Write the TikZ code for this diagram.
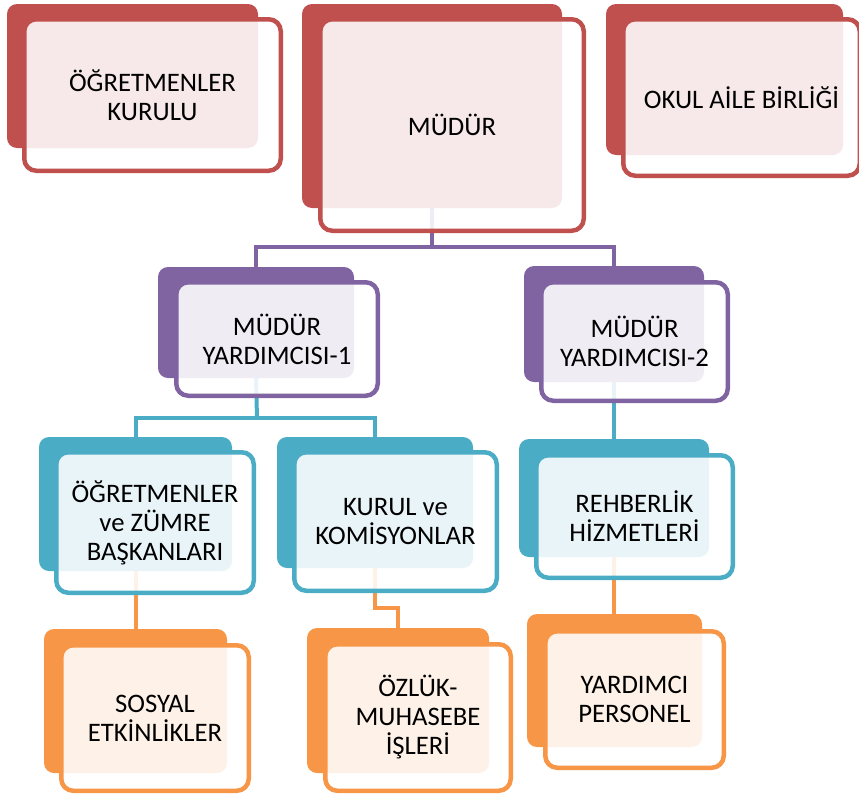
\documentclass[tikz,border=0pt]{standalone}
\usepackage{fontspec}
\setmainfont{Carlito}
\definecolor{cred}{HTML}{C0504D}
\definecolor{cpur}{HTML}{8064A2}
\definecolor{cteal}{HTML}{4BACC6}
\definecolor{corg}{HTML}{F79646}
\tikzset{
  backbox/.style={rectangle, rounded corners=10pt, inner sep=0pt, draw=none},
  frontbox/.style={rectangle, rounded corners=12pt, inner sep=0pt, line width=4.5pt,
     fill=white, fill opacity=0.88, text opacity=1, align=center,
     font=\fontsize{26.7}{29}\selectfont},
  conn/.style={line width=4pt}
}
% back (dark) box: name, colour, x1,y1,x2,y2
\newcommand\orgdarkbox[6]{%
  \node[backbox, fill=#2, minimum width={(#5-#3)*1pt}, minimum height={(#6-#4)*1pt}]
    (#1) at ({(#3+#5)/2},{(#4+#6)/2}) {};}
% front (outlined) box: name, colour, x1,y1,x2,y2 (outer), text
\newcommand\orgfrontbox[7]{%
  \node[frontbox, draw=#2, minimum width={(#5-#3-4.5)*1pt}, minimum height={(#6-#4-4.5)*1pt}]
    (#1) at ({(#3+#5)/2},{(#4+#6)/2}) {#7};}
\begin{document}
\begin{tikzpicture}[x=1pt,y=-1pt]
\useasboundingbox (0,0) rectangle (859,798);
% dark boxes
\orgdarkbox{kurulu-b}{cred}{7}{4}{258}{148}
\orgdarkbox{mudur-b}{cred}{302}{4}{562}{208}
\orgdarkbox{okul-b}{cred}{606}{4}{843}{155}
\orgdarkbox{my1-b}{cpur}{158}{267}{354}{378}
\orgdarkbox{my2-b}{cpur}{524}{266}{704}{382}
\orgdarkbox{ogz-b}{cteal}{39}{437}{232}{571}
\orgdarkbox{kurul-b}{cteal}{277}{437}{473}{568}
\orgdarkbox{reh-b}{cteal}{519}{439}{709}{557}
\orgdarkbox{sos-b}{corg}{44}{629}{227}{773}
\orgdarkbox{ozluk-b}{corg}{307}{628}{489}{773}
\orgdarkbox{yard-b}{corg}{527}{614}{702}{747}
% junctions
\coordinate (j1) at (432,247);
\coordinate (j2) at (257,418);
\coordinate (j3) at (386,608);
% connectors
\draw[conn, cpur] (mudur-b.south) -- (j1);
\draw[conn, cpur] (my1-b.north) |- (j1) -| (my2-b.north);
\draw[conn, cteal] (my1-b.south) -- (j2);
\draw[conn, cteal] (ogz-b.north) |- (j2) -| (kurul-b.north);
\draw[conn, cteal] (my2-b.south) -- (reh-b.north);
\draw[conn, corg] (ogz-b.south) -- (sos-b.north);
\draw[conn, corg] (kurul-b.south) |- (j3) -| (ozluk-b.north);
\draw[conn, corg] (reh-b.south) -- (reh-b.south |- yard-b.north);
% front boxes
\orgfrontbox{kurulu}{cred}{22}{17}{283}{173}{ÖĞRETMENLER\\KURULU}
\orgfrontbox{mudur}{cred}{318}{17}{586}{233}{MÜDÜR}
\orgfrontbox{okul}{cred}{621}{17}{862}{178}{OKUL AİLE BİRLİĞİ}
\orgfrontbox{my1}{cpur}{174}{280}{380}{398}{MÜDÜR\\YARDIMCISI-1}
\orgfrontbox{my2}{cpur}{539}{280}{730}{403}{MÜDÜR\\YARDIMCISI-2}
\orgfrontbox{ogz}{cteal}{54}{450}{256}{595}{ÖĞRETMENLER\\ve ZÜMRE\\BAŞKANLARI}
\orgfrontbox{kurul}{cteal}{292}{450}{499}{593}{KURUL ve\\KOMİSYONLAR}
\orgfrontbox{reh}{cteal}{534}{453}{735}{580}{REHBERLİK\\HİZMETLERİ}
\orgfrontbox{sos}{corg}{59}{643}{251}{793}{SOSYAL\\ETKİNLİKLER}
\orgfrontbox{ozluk}{corg}{323}{642}{513}{793}{ÖZLÜK-\\MUHASEBE\\İŞLERİ}
\orgfrontbox{yard}{corg}{543}{629}{726}{770}{YARDIMCI\\PERSONEL}
\end{tikzpicture}
\end{document}
